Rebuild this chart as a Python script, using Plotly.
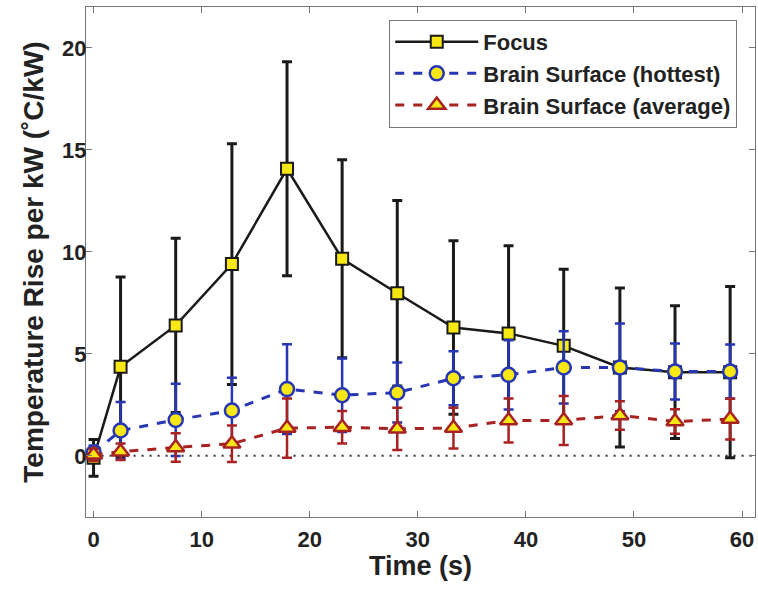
import plotly.graph_objects as go

# ---- data ----
time_s = [0, 2.5, 7.6, 12.8, 17.9, 23.0, 28.1, 33.3, 38.4, 43.5, 48.7, 53.8, 58.9]

focus_mean = [-0.1, 4.36, 6.39, 9.4, 14.07, 9.66, 7.97, 6.29, 6.0, 5.39, 4.33, 4.1, 4.1]
focus_err = [0.9, 4.4, 4.27, 5.9, 5.25, 4.85, 4.55, 4.25, 4.3, 3.75, 3.9, 3.25, 4.2]

hot_mean = [0.15, 1.24, 1.76, 2.22, 3.27, 2.97, 3.1, 3.8, 3.97, 4.33, 4.33, 4.13, 4.13]
hot_err = [0.35, 1.4, 1.77, 1.6, 2.2, 1.8, 1.47, 1.32, 1.7, 1.77, 2.15, 1.37, 1.32]

avg_mean = [0.05, 0.2, 0.41, 0.59, 1.36, 1.4, 1.32, 1.36, 1.73, 1.73, 1.98, 1.68, 1.8]
avg_err = [0.3, 0.4, 0.7, 0.9, 1.45, 0.8, 1.03, 1.0, 1.08, 1.2, 0.7, 0.6, 1.0]

series_names = ["Focus", "Brain Surface (hottest)", "Brain Surface (average)"]

x_ticks = [0, 10, 20, 30, 40, 50, 60]
y_ticks = [0, 5, 10, 15, 20]

FONT = "Liberation Sans, Arial, sans-serif"
YELLOW = "#f7e814"
BLUE = "#2636b4"
RED = "#a82222"
INK = "#222222"

fig = go.Figure()

fig.add_trace(go.Scatter(
    x=time_s, y=focus_mean, name=series_names[0], mode="lines+markers",
    line=dict(color="#1a1a1a", width=2.5),
    marker=dict(symbol="square", size=12, color=YELLOW, line=dict(color="#1a1a1a", width=2)),
    error_y=dict(type="data", array=focus_err, visible=True, color="#1a1a1a", thickness=3, width=5),
))
fig.add_trace(go.Scatter(
    x=time_s, y=hot_mean, name=series_names[1], mode="lines+markers",
    line=dict(color=BLUE, width=3, dash="dash"),
    marker=dict(symbol="circle", size=14, color=YELLOW, line=dict(color=BLUE, width=2.5)),
    error_y=dict(type="data", array=hot_err, visible=True, color=BLUE, thickness=2.5, width=5),
))
fig.add_trace(go.Scatter(
    x=time_s, y=avg_mean, name=series_names[2], mode="lines+markers",
    line=dict(color=RED, width=3, dash="dash"),
    marker=dict(symbol="triangle-up", size=15, color=YELLOW, line=dict(color=RED, width=2.5)),
    error_y=dict(type="data", array=avg_err, visible=True, color=RED, thickness=2.5, width=5),
))

# zero reference line (dotted)
fig.add_shape(type="line", xref="x", yref="y", x0=0, x1=61.2, y0=0, y1=0,
              line=dict(color="#333333", width=2, dash="2px,6px"), layer="below")

axis_common = dict(
    showline=True, linecolor="#777777", linewidth=1.2, mirror="ticks",
    ticks="inside", ticklen=6, tickcolor="#777777", tickwidth=1,
    showgrid=False, zeroline=False, automargin=False,
    tickfont=dict(family=FONT, size=22, color=INK, weight="bold"),
)

fig.update_layout(
    width=758, height=589,
    margin=dict(l=86, r=3, t=7, b=72),
    paper_bgcolor="white", plot_bgcolor="white",
    font=dict(family=FONT, color=INK),
    xaxis=dict(
        range=[-0.7, 61.2], tickvals=x_ticks,
        title=dict(text="<b>Time (s)</b>", font=dict(family=FONT, size=27, color=INK), standoff=2),
        ticklabelstandoff=2,
        **axis_common,
    ),
    yaxis=dict(
        range=[-3, 22], tickvals=y_ticks,
        title=dict(text="<b>Temperature Rise per kW (˚C/kW)</b>", font=dict(family=FONT, size=28, color=INK), standoff=10),
        ticklabelstandoff=-6,
        **axis_common,
    ),
    legend=dict(
        x=0.453, y=0.975, xanchor="left", yanchor="top",
        bgcolor="white", bordercolor="#777777", borderwidth=1.2,
        font=dict(family=FONT, size=22, color=INK, weight="bold"),
        itemwidth=83, tracegroupgap=0,
    ),
    showlegend=True,
)

fig.write_html(
    "out.html",
    config={"displayModeBar": False},
    post_script="document.body.style.margin='0';document.body.style.overflow='hidden';",
)
